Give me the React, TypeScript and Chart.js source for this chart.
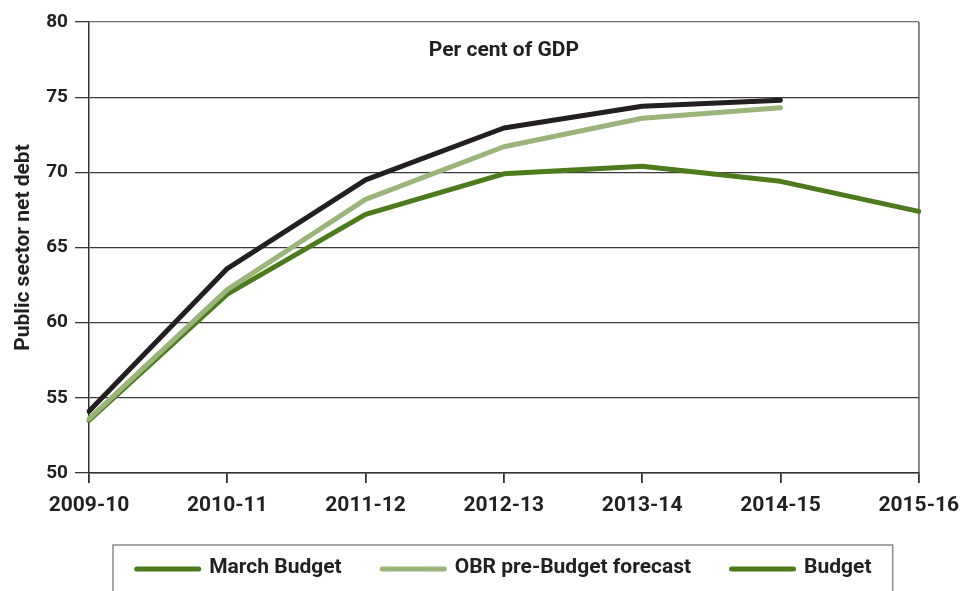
import React, { useEffect, useRef } from 'react';
import { Chart, registerables } from 'chart.js';

Chart.register(...registerables);

const categories = ['2009-10', '2010-11', '2011-12', '2012-13', '2013-14', '2014-15', '2015-16'];
const seriesLabels = ['March Budget', 'OBR pre-Budget forecast', 'Budget'];
const marchBudget = [54.1, 63.6, 69.5, 72.95, 74.4, 74.8, null];
const obrForecast = [53.6, 62.2, 68.2, 71.7, 73.6, 74.3, null];
const budget = [53.5, 61.9, 67.2, 69.9, 70.4, 69.4, 67.4];
const yMin = 50;
const yMax = 80;
const yStep = 5;
const chartTitle = 'Per cent of GDP';
const yTitle = 'Public sector net debt';

const FONT = "Roboto, 'DejaVu Sans Condensed', sans-serif";
const TEXT = '#231f20';
const BLACK = '#231f20';
const LIGHT = '#9bb47a';
const DARK = '#4d7a1c';
const lineColors = [BLACK, LIGHT, DARK];
const swatchColors = [DARK, LIGHT, DARK];

const innerTitle = {
  id: 'innerTitle',
  afterDraw(chart: any) {
    const { ctx, chartArea } = chart;
    ctx.save();
    ctx.font = `bold 21px ${FONT}`;
    ctx.fillStyle = TEXT;
    ctx.textAlign = 'center';
    ctx.textBaseline = 'middle';
    ctx.fillText(chartTitle, (chartArea.left + chartArea.right) / 2, chartArea.top + 29);
    ctx.restore();
  },
};

const boxLegend = {
  id: 'boxLegend',
  afterDraw(chart: any) {
    const { ctx, chartArea, height } = chart;
    ctx.save();
    const top = chartArea.bottom + 72;
    const boxLeft = chartArea.left + 24;
    const boxRight = chartArea.right - 26;
    ctx.strokeStyle = '#8c8c8c';
    ctx.lineWidth = 1.5;
    ctx.strokeRect(boxLeft, top, boxRight - boxLeft, height - top + 10);
    ctx.font = `bold 21px ${FONT}`;
    const sw = 67;
    const gapText = 8;
    const gapItem = 38;
    const items = chart.data.datasets.map((ds: any, i: number) => ({
      label: ds.label,
      color: swatchColors[i],
      w: sw + gapText + ctx.measureText(ds.label).width,
    }));
    const total = items.reduce((a: number, it: any) => a + it.w, 0) + gapItem * (items.length - 1);
    let x = (boxLeft + boxRight) / 2 - total / 2;
    const cy = top + 23;
    ctx.textBaseline = 'middle';
    ctx.textAlign = 'left';
    for (const it of items) {
      ctx.strokeStyle = it.color;
      ctx.lineWidth = 5;
      ctx.lineCap = 'round';
      ctx.beginPath();
      ctx.moveTo(x + 2.5, cy + 1);
      ctx.lineTo(x + sw - 2.5, cy + 1);
      ctx.stroke();
      ctx.fillStyle = TEXT;
      ctx.fillText(it.label, x + sw + gapText, cy);
      x += it.w + gapItem;
    }
    ctx.restore();
  },
};

export default function App() {
  const ref = useRef<HTMLCanvasElement | null>(null);

  useEffect(() => {
    document.body.style.margin = '0';
    const canvas = ref.current;
    if (!canvas) return;
    const values = [marchBudget, obrForecast, budget];
    const chart = new Chart(canvas, {
      type: 'line',
      data: {
        labels: categories,
        datasets: seriesLabels.map((label, i) => ({
          label,
          data: values[i],
          borderColor: lineColors[i],
          backgroundColor: lineColors[i],
          borderWidth: 5,
          pointRadius: 0,
          pointHoverRadius: 0,
          tension: 0,
          fill: false,
          borderCapStyle: 'round',
          borderJoinStyle: 'round',
          spanGaps: false,
        })),
      },
      options: {
        animation: false,
        responsive: false,
        maintainAspectRatio: false,
        layout: { padding: { left: 0, right: 49, top: 22, bottom: 46 } },
        plugins: {
          legend: { display: false },
          tooltip: { enabled: false },
          title: { display: false },
        },
        scales: {
          x: {
            type: 'category',
            offset: false,
            grid: {
              display: true,
              drawOnChartArea: true,
              color: (c: any) => (c.index === categories.length - 1 ? '#7a7a7a' : 'rgba(0,0,0,0)'),
              tickColor: '#333333',
              tickLength: 10,
              lineWidth: 1.8,
            },
            border: { display: true, color: '#333333', width: 1.5 },
            ticks: {
              color: TEXT,
              font: { family: FONT, size: 21, weight: 'bold' },
              padding: 10,
              maxRotation: 0,
              autoSkip: false,
            },
            afterFit: (s: any) => {
              s.height = 72;
            },
          },
          y: {
            min: yMin,
            max: yMax,
            grid: {
              color: (c: any) => (c.tick && c.tick.value === yMax ? '#6e6e6e' : '#3a3a3a'),
              tickColor: '#3a3a3a',
              tickLength: 14,
              lineWidth: 1.3,
            },
            border: { display: true, color: '#333333', width: 1.5 },
            ticks: {
              stepSize: yStep,
              color: TEXT,
              font: { family: FONT, size: 19, weight: 'bold' },
              padding: 7,
            },
            title: {
              display: true,
              text: yTitle,
              color: TEXT,
              font: { family: FONT, size: 21, weight: 'bold' },
              padding: { top: 11, bottom: 0 },
            },
            afterFit: (s: any) => {
              s.width = 89;
            },
          },
        },
      },
      plugins: [innerTitle, boxLegend],
    });
    return () => chart.destroy();
  }, []);

  return (
    <div style={{ width: 969, height: 591 }}>
      <canvas ref={ref} width={969} height={591} style={{ display: 'block' }} />
    </div>
  );
}
